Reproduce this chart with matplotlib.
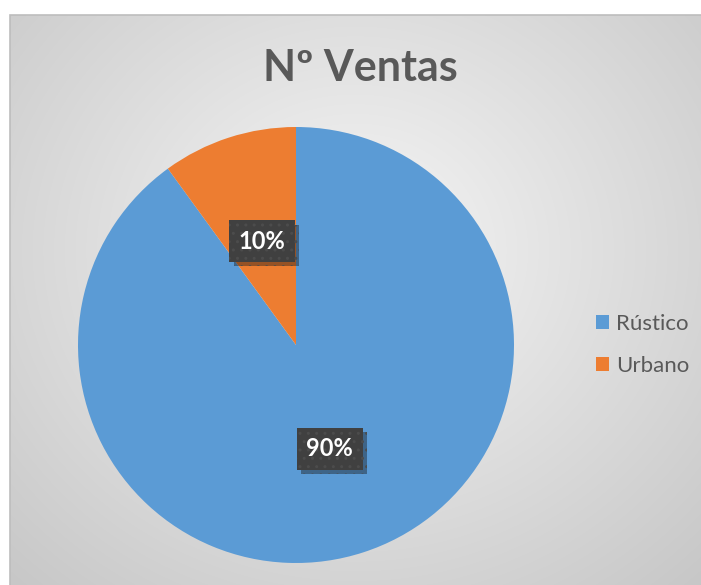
import numpy as np
import matplotlib.pyplot as plt
from matplotlib.patches import Rectangle
from matplotlib import patheffects as pe

plt.rcParams['font.family'] = ['Lato', 'DejaVu Sans']

categories = ['Rústico', 'Urbano']
values = [90, 10]
colors = ['#5B9BD5', '#ED7D31']
title = 'Nº Ventas'

W, H = 701, 585
fig = plt.figure(figsize=(W / 100, H / 100), dpi=100)

# background panel with radial gradient (chart area starts at x=10, y=15)
bg = fig.add_axes([10 / W, 0, 1 - 10 / W, 1 - 15 / H])
bg.set_axis_off()
ny, nx = 570, 691
yy, xx = np.mgrid[0:ny, 0:nx]
cx, cy = 345, 235
d = np.sqrt(((xx - cx) / 520.0) ** 2 + ((yy - cy) / 470.0) ** 2)
d = np.clip(d, 0, 1)
shade = 0.965 - 0.19 * d
bg.imshow(np.dstack([shade] * 3), aspect='auto', extent=(0, 1, 0, 1), origin='upper')
bg.set_xlim(0, 1)
bg.set_ylim(0, 1)
# only top and left edges of the frame are inside the picture
bg.add_patch(Rectangle((0, -0.2), 1.2, 1.2, fill=False, edgecolor='#bdbdbd', linewidth=1.2,
                       transform=bg.transAxes, clip_on=False))

# pie, centre (296, 345) px, radius 218 px
cxp, cyp, r = 296, 345, 218
ax = fig.add_axes([(cxp - r) / W, (H - cyp - r) / H, 2 * r / W, 2 * r / H])
ax.set_axis_off()
wedges, texts, autotexts = ax.pie(values, colors=colors, startangle=90, counterclock=False,
                                  autopct='%1.0f%%', pctdistance=0.5, radius=1,
                                  wedgeprops=dict(linewidth=0))
ax.set_xlim(-1, 1)
ax.set_ylim(-1, 1)

for t in autotexts:
    t.set_color('white')
    t.set_fontsize(17)
    t.set_fontweight('bold')
    t.set_bbox(dict(boxstyle='square,pad=0.4', facecolor='#404040', edgecolor='#4c4c4c',
                    hatch='..', linewidth=0))
    t.get_bbox_patch().set_path_effects([pe.SimplePatchShadow(offset=(3, -3), alpha=0.4),
                                         pe.Normal()])

fig.text(360 / W, 1 - 68 / H, title, ha='center', va='center', fontsize=31,
         fontweight='bold', color='#595959')

leg = fig.legend(wedges, categories, loc='center left', bbox_to_anchor=(576 / W, 1 - 345 / H),
                 frameon=False, fontsize=16, labelcolor='#595959', handlelength=0.6,
                 handleheight=0.6, handletextpad=0.3, labelspacing=1.0)

fig.savefig('out.png', dpi=100, facecolor='white')
